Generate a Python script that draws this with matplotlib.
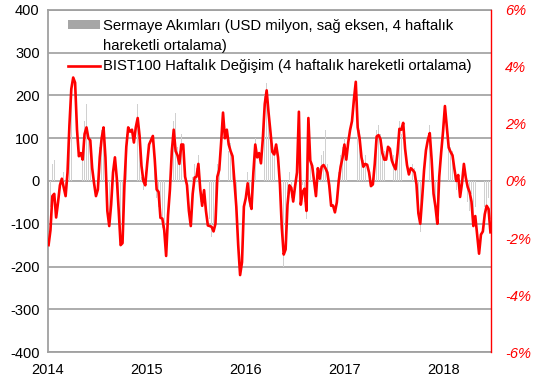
import matplotlib
matplotlib.use("Agg")
import matplotlib.pyplot as plt
import matplotlib.dates as mdates
from matplotlib.patches import Patch
from matplotlib.lines import Line2D
import pandas as pd

plt.rcParams['font.family'] = ['Liberation Sans', 'DejaVu Sans']
plt.rcParams['axes.unicode_minus'] = False

# haftalık tarihler (2014 başından 2018 ortasına)
dates = pd.date_range('2014-01-03', periods=234, freq='7D')

# Sermaye akımları, USD milyon (4 haftalık hareketli ortalama)
flows = [
    -120, -60, 40, 50, -110, -40, 10, 30, 20, -20,
    60, 170, 190, 210, 180, 90, 40, 80, 60, 140,
    180, 110, 70, 20, -30, -50, 10, 80, 120, 110,
    20, -90, -80, -30, 40, 70, -10, -90, -130, -110,
    20, 110, 150, 130, 170, 100, 230, 180, 90, 10,
    -20, 20, 70, 100, 90, 120, 30, -40, -60, -70,
    -110, -140, -150, -40, 20, 90, 140, 160, 80, 70,
    110, 60, -20, -40, -90, -80, 10, 40, 30, 60,
    -50, -80, 10, -90, -120, -90, -130, -100, -70, 40,
    60, 120, 190, 130, 100, 70, 90, 40, -30, -80,
    -190, -290, -160, -40, -70, 20, -60, -40, 50, 100,
    80, 90, 60, 130, 200, 230, 150, 120, 90, 80,
    110, 70, -30, -140, -200, -130, -30, 20, -40, -70,
    10, 50, 180, -30, -10, -50, -90, 120, 70, 60,
    20, -60, 50, 30, 60, 70, 120, 40, -30, -80,
    -140, -60, -30, 20, 60, 80, 100, 70, 110, 140,
    160, 220, 250, 150, 120, 70, 50, 60, 30, 40,
    -30, 10, 60, 120, 130, 110, 80, 70, 60, 190,
    100, 160, 60, 40, 90, 140, 110, 160, 90, 60,
    30, 50, 40, 30, -20, -60, -120, -20, 40, 90,
    110, 130, 70, -10, -80, -90, 30, 80, 140, 190,
    150, 100, 80, 70, 40, -20, 30, -50, -20, -40,
    -60, -50, -70, -30, -90, -60, -100, -130, -90, -100,
    -60, -70, -40, -90,
]

# BIST100 haftalık değişim, % (4 haftalık hareketli ortalama)
bist = [
    -2.25, -1.73, -0.53, -0.45, -1.28, -0.75, -0.15, 0.08, -0.23, -0.53,
    0.30, 1.95, 3.23, 3.63, 3.45, 1.80, 0.87, 0.98, 0.75, 1.65,
    1.88, 1.50, 1.43, 0.45, -0.08, -0.53, -0.30, 0.83, 1.50, 1.88,
    0.83, -1.05, -1.58, -0.83, 0.30, 0.83, 0.08, -1.05, -2.25, -2.18,
    -0.15, 1.20, 1.88, 1.73, 1.80, 1.35, 1.88, 2.21, 1.58, 0.53,
    0.00, -0.15, 0.60, 1.28, 1.43, 1.58, 0.75, -0.30, -0.38, -1.29,
    -1.32, -1.73, -2.63, -1.20, -0.30, 1.05, 1.80, 1.05, 0.90, 0.60,
    1.28, 1.28, 0.15, -0.15, -1.05, -1.58, -0.45, 0.12, 0.15, 0.60,
    -0.30, -0.87, -0.32, -1.05, -1.56, -1.58, -1.61, -1.77, -1.50, 0.15,
    0.39, 1.35, 2.40, 1.50, 1.80, 1.28, 1.05, 0.87, 0.00, -0.90,
    -2.25, -3.30, -2.85, -0.90, -0.60, -0.08, -0.68, -0.98, 0.30, 1.28,
    0.83, 0.98, 0.62, 1.50, 2.70, 3.18, 2.40, 1.73, 1.02, 0.93,
    1.28, 0.83, -0.12, -1.65, -2.58, -2.40, -0.83, -0.15, -0.24, -0.72,
    -0.18, 0.30, 2.43, -0.83, -0.38, -0.27, -1.05, 2.21, 0.72, 0.53,
    0.00, -0.53, 0.45, 0.08, 0.50, 0.56, 0.45, 0.30, -0.15, -0.87,
    -0.86, -1.10, -0.75, 0.00, 0.50, 0.81, 1.28, 0.75, 1.35, 1.79,
    2.10, 2.85, 3.48, 1.88, 1.50, 0.83, 0.50, 0.60, 0.57, 0.30,
    -0.18, -0.12, 0.60, 1.56, 1.61, 1.47, 0.98, 0.75, 0.75, 1.20,
    1.13, 0.72, 0.54, 0.41, 0.98, 1.83, 1.80, 2.04, 1.13, 0.56,
    0.23, 0.45, 0.39, 0.30, -0.12, -1.13, -1.50, -0.60, 0.38, 1.08,
    1.44, 1.68, 0.75, -0.45, -0.90, -1.50, 0.15, 0.98, 1.73, 2.63,
    1.91, 1.17, 1.02, 0.90, 0.42, 0.00, 0.21, -0.56, -0.08, 0.60,
    0.12, -0.21, -0.39, -0.72, -1.58, -1.23, -1.88, -2.55, -1.88, -1.77,
    -1.17, -0.87, -0.98, -1.80,
]

left_ticks = [-400, -300, -200, -100, 0, 100, 200, 300, 400]
right_ticks = [-6, -4, -2, 0, 2, 4, 6]
right_labels = ['-6%', '-4%', '-2%', '0%', '2%', '4%', '6%']

fig = plt.figure(figsize=(5.37, 3.84), dpi=100)
ax = fig.add_axes([0.0894, 0.0833, 0.8249, 0.8907])

# gri çubuklar
ax.bar(dates, flows, width=2.0, color='#d0d0d0', linewidth=0, zorder=2)

ax.set_ylim(-400, 400)
ax.set_yticks(left_ticks)
ax.grid(axis='y', color='#a6a6a6', linewidth=1.3, zorder=1)
ax.set_axisbelow(True)
ax.set_xlim(pd.Timestamp('2014-01-01'), pd.Timestamp('2018-06-24'))
ax.xaxis.set_major_locator(mdates.YearLocator())
ax.xaxis.set_major_formatter(mdates.DateFormatter('%Y'))
ax.tick_params(axis='both', length=0, labelsize=10.5, colors='black', pad=6)
ax.tick_params(axis='x', pad=8)
for side in ['left', 'bottom', 'top']:
    ax.spines[side].set_color('#a0a0a0')
    ax.spines[side].set_linewidth(1.3)
ax.spines['right'].set_visible(False)

# kırmızı çizgi sağ eksende
ax2 = ax.twinx()
ax2.plot(dates, bist, color='#ff0000', linewidth=1.9, zorder=3)
ax2.set_ylim(-6, 6)
ax2.set_yticks(right_ticks)
ax2.set_yticklabels(right_labels, fontstyle='italic')
ax2.tick_params(axis='y', length=0, labelsize=10.5, colors='#ff0000', pad=10)
ax2.spines['right'].set_color('#ff0000')
ax2.spines['right'].set_linewidth(1.0)
for side in ['left', 'bottom', 'top']:
    ax2.spines[side].set_visible(False)

# lejant: ilk etiketin ikinci satırı boş işaretli ayrı satır
handles = [
    Patch(facecolor='#a6a6a6', edgecolor='none'),
    Patch(facecolor='none', edgecolor='none'),
    Line2D([0], [0], color='#ff0000', linewidth=1.9),
]
labels = [
    'Sermaye Akımları (USD milyon, sağ eksen, 4 haftalık',
    'hareketli ortalama)',
    'BIST100 Haftalık Değişim (4 haftalık hareketli ortalama)',
]
leg = ax2.legend(handles, labels, loc='upper left', bbox_to_anchor=(0.026, 1.0),
                 frameon=False, fontsize=10.7, handlelength=2.1, handleheight=0.5,
                 handletextpad=0.25, labelspacing=0.42, borderaxespad=0.2)

plt.savefig('out.png', dpi=100)
plt.close()
